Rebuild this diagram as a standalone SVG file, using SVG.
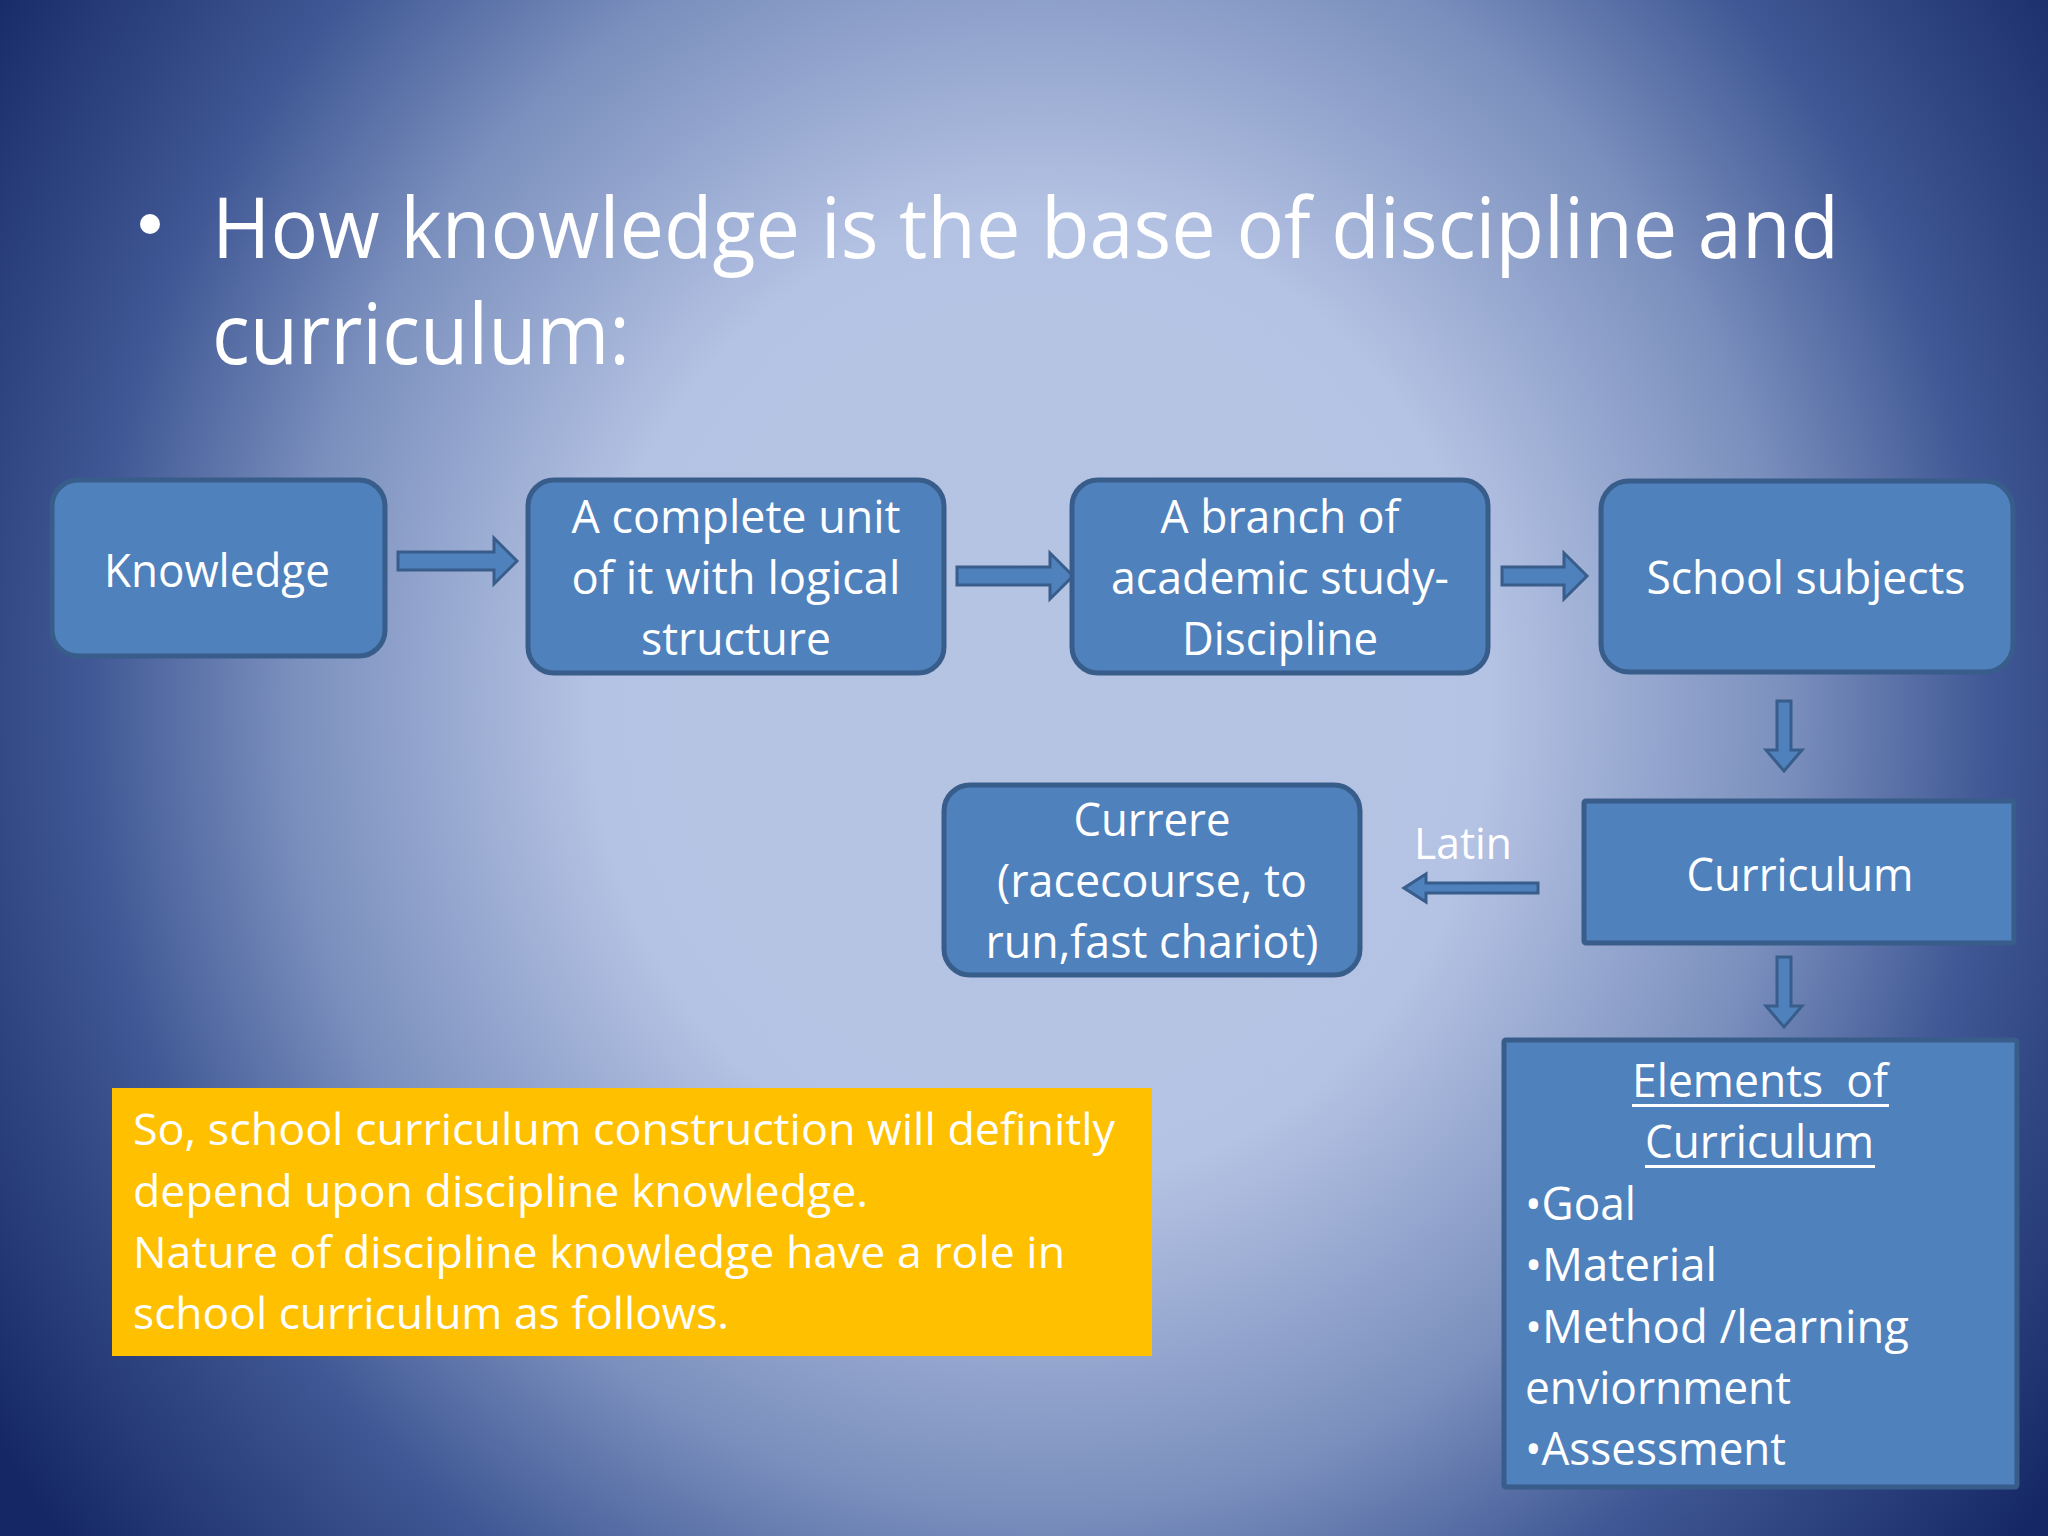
<svg xmlns="http://www.w3.org/2000/svg" width="2048" height="1536" viewBox="0 0 2048 1536">
<defs>
<radialGradient id="bg" cx="1040" cy="700" r="1250" gradientUnits="userSpaceOnUse" gradientTransform="translate(1040 700) scale(1 1.08) translate(-1040 -700)">
<stop offset="0" stop-color="#b6c4e4"/>
<stop offset="0.36" stop-color="#b4c2e3"/>
<stop offset="0.6" stop-color="#7a8fbd"/>
<stop offset="0.76" stop-color="#405895"/>
<stop offset="1" stop-color="#152865"/>
</radialGradient>
<style>
.box{fill:#4f81bd;stroke:#385d8a;stroke-width:5}
.arr{fill:#4f81bd;stroke:#385d8a;stroke-width:3;stroke-linejoin:miter}
.t{font-family:"Open Sans","Liberation Sans",sans-serif;fill:#ffffff}
.n{font-size:46px;text-anchor:middle}
.e{font-size:46px}
.y{font-size:44px}
.title{font-size:85px}
</style>
</defs>
<rect width="2048" height="1536" fill="url(#bg)"/>

<g id="title">
<circle cx="150" cy="224" r="10" fill="#ffffff"/>
<text class="t title" x="212" y="258" textLength="1627" lengthAdjust="spacingAndGlyphs">How knowledge is the base of discipline and</text>
<text class="t title" x="212" y="364" textLength="418" lengthAdjust="spacingAndGlyphs">curriculum:</text>
</g>

<g id="connectors">
<path class="arr" d="M398 552 L494 552 L494 538 L517 561 L494 584 L494 570 L398 570 Z"/>
<path class="arr" d="M957 567 L1050 567 L1050 553 L1073 576 L1050 599 L1050 585 L957 585 Z"/>
<path class="arr" d="M1502 567 L1564 567 L1564 553 L1587 576 L1564 599 L1564 585 L1502 585 Z"/>
<path class="arr" d="M1777 701 L1791 701 L1791 750 L1802 750 L1784 771 L1766 750 L1777 750 Z"/>
<path class="arr" d="M1777 957 L1791 957 L1791 1006 L1802 1006 L1784 1027 L1766 1006 L1777 1006 Z"/>
<path class="arr" d="M1538 883 L1426 883 L1426 874 L1404 888 L1426 902 L1426 893 L1538 893 Z"/>
<text class="t" x="1463" y="859" font-size="44" text-anchor="middle" textLength="98" lengthAdjust="spacingAndGlyphs">Latin</text>
</g>

<g id="knowledge">
<rect class="box" x="52" y="480" width="333" height="176" rx="26"/>
<text class="t n" x="217" y="587" textLength="226" lengthAdjust="spacingAndGlyphs">Knowledge</text>
</g>

<g id="unit">
<rect class="box" x="528" y="480" width="416" height="193" rx="26"/>
<text class="t n" x="736" y="533" textLength="329" lengthAdjust="spacingAndGlyphs">A complete unit</text>
<text class="t n" x="736" y="594" textLength="329" lengthAdjust="spacingAndGlyphs">of it with logical</text>
<text class="t n" x="736" y="655" textLength="190" lengthAdjust="spacingAndGlyphs">structure</text>
</g>

<g id="discipline">
<rect class="box" x="1072" y="480" width="416" height="193" rx="26"/>
<text class="t n" x="1280" y="533" textLength="239" lengthAdjust="spacingAndGlyphs">A branch of</text>
<text class="t n" x="1280" y="594" textLength="338" lengthAdjust="spacingAndGlyphs">academic study-</text>
<text class="t n" x="1280" y="655" textLength="196" lengthAdjust="spacingAndGlyphs">Discipline</text>
</g>

<g id="school">
<rect class="box" x="1601" y="481" width="412" height="191" rx="28"/>
<text class="t n" x="1806" y="594" textLength="319" lengthAdjust="spacingAndGlyphs">School subjects</text>
</g>

<g id="curriculum">
<rect class="box" x="1584" y="801" width="430" height="142" rx="2"/>
<text class="t n" x="1800" y="891" textLength="227" lengthAdjust="spacingAndGlyphs">Curriculum</text>
</g>

<g id="currere">
<rect class="box" x="944" y="785" width="416" height="190" rx="26"/>
<text class="t n" x="1152" y="836" textLength="157" lengthAdjust="spacingAndGlyphs">Currere</text>
<text class="t n" x="1152" y="897" textLength="310" lengthAdjust="spacingAndGlyphs">(racecourse, to</text>
<text class="t n" x="1152" y="958" textLength="333" lengthAdjust="spacingAndGlyphs">run,fast chariot)</text>
</g>

<g id="elements">
<rect class="box" x="1504" y="1040" width="513" height="447" rx="2"/>
<text class="t e" x="1632" y="1097" textLength="256" lengthAdjust="spacingAndGlyphs">Elements&#160; of</text>
<rect x="1632" y="1104" width="257" height="3" fill="#ffffff"/>
<text class="t e" x="1645" y="1158" textLength="229" lengthAdjust="spacingAndGlyphs">Curriculum</text>
<rect x="1645" y="1165" width="230" height="3" fill="#ffffff"/>
<text class="t e" x="1525" y="1220" textLength="111" lengthAdjust="spacingAndGlyphs">•Goal</text>
<text class="t e" x="1525" y="1281" textLength="192" lengthAdjust="spacingAndGlyphs">•Material</text>
<text class="t e" x="1525" y="1343" textLength="384" lengthAdjust="spacingAndGlyphs">•Method /learning</text>
<text class="t e" x="1525" y="1404" textLength="266" lengthAdjust="spacingAndGlyphs">enviornment</text>
<text class="t e" x="1525" y="1465" textLength="261" lengthAdjust="spacingAndGlyphs">•Assessment</text>
</g>

<g id="note">
<rect x="112" y="1088" width="1040" height="268" fill="#ffc000"/>
<text class="t y" x="133" y="1145" textLength="982" lengthAdjust="spacingAndGlyphs">So, school curriculum construction will definitly</text>
<text class="t y" x="133" y="1207" textLength="735" lengthAdjust="spacingAndGlyphs">depend upon discipline knowledge.</text>
<text class="t y" x="133" y="1268" textLength="932" lengthAdjust="spacingAndGlyphs">Nature of discipline knowledge have a role in</text>
<text class="t y" x="133" y="1329" textLength="596" lengthAdjust="spacingAndGlyphs">school curriculum as follows.</text>
</g>
</svg>
